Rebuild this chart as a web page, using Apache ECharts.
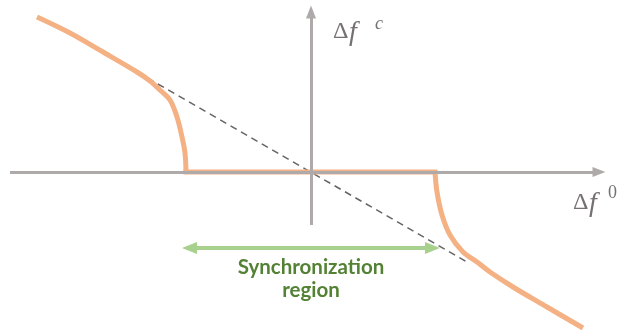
<!DOCTYPE html>
<html>
<head>
<meta charset="utf-8">
<script src="https://cdn.jsdelivr.net/npm/echarts@6/dist/echarts.min.js"></script>
<style>
  html, body { margin: 0; padding: 0; background: #ffffff; }
  #chart { width: 622px; height: 331px; }
</style>
</head>
<body>
<div id="chart"></div>
<script>
// Injection locking: free-running detuning Δf⁰ (x) against the observed beat frequency Δf^c (y).

// Unlocked branch left of the locking range
const leftBranchX = [-5.48, -4.82, -4.16, -3.48, -3.22, -3.02, -2.82, -2.68, -2.58, -2.52, -2.50];
const leftBranchY = [3.10, 2.78, 2.40, 2.00, 1.82, 1.64, 1.44, 1.10, 0.70, 0.38, 0];
// Locked plateau (beat frequency pulled to zero)
const lockedX = [-2.50, 2.48];
const lockedY = [0, 0];
// Unlocked branch right of the locking range
const rightBranchX = [2.48, 2.52, 2.62, 2.78, 3.04, 3.32, 3.58, 4.04, 4.72, 5.44];
const rightBranchY = [0, -0.40, -0.86, -1.26, -1.60, -1.80, -2.00, -2.30, -2.70, -3.12];
// Unlocked asymptote Δf^c = -k·Δf⁰
const asymptoteX = [-3.48, 3.12];
const asymptoteY = [2.00, -1.80];
// Locking range arrow
const syncArrowX = [-2.43, 2.43];
const syncArrowY = -1.52;
// Axis shafts
const horizontalAxisX = [-6.02, 5.76];
const verticalAxisY = [-1.06, 3.20];

const axisLabelX = ['Δ', 'f', '0'];
const axisLabelY = ['Δ', 'f', 'c'];
const regionLabel = ['Synchronization', 'region'];

function pairs(xs, ys) {
  return xs.map((x, i) => [x, ys[i]]);
}

const AXIS_GRAY = '#aeaaaa';
const ORANGE = '#f4b183';
const GREEN_ARROW = '#a9d18e';
const GREEN_TEXT = '#548235';
const MATH_GRAY = '#767171';
const SERIF = '"Liberation Serif", serif';

const chart = echarts.init(document.getElementById('chart'), null, { renderer: 'canvas' });

function textEl(x, y, text, font, fill) {
  return {
    type: 'text', x: x, y: y, silent: true,
    style: {
      text: text, font: font, fill: fill,
      align: 'left', textAlign: 'left',
      verticalAlign: 'middle', textVerticalAlign: 'middle'
    }
  };
}

// Δ, italic f and a raised superscript
function mathLabel(parts, deltaX, baseY, fX, supX, supY, supItalic) {
  return [
    textEl(deltaX, baseY, parts[0], 'normal 24px ' + SERIF, MATH_GRAY),
    textEl(fX, baseY + 1, parts[1], 'italic 28px ' + SERIF, MATH_GRAY),
    textEl(supX, supY, parts[2], (supItalic ? 'italic ' : 'normal ') + '18px ' + SERIF, MATH_GRAY)
  ];
}

const branchStyle = { color: ORANGE, width: 5, cap: 'butt', join: 'round' };

const option = {
  animation: false,
  backgroundColor: '#ffffff',
  grid: { left: 0, right: 0, top: 0, bottom: 0 },
  xAxis: { type: 'value', min: -6.22, max: 6.22, show: false },
  yAxis: { type: 'value', min: -3.18, max: 3.44, show: false },
  series: [
    {
      // coordinate axes with arrow heads
      type: 'line', data: [], silent: true, z: 1,
      markLine: {
        silent: true, animation: false,
        symbol: ['none', 'triangle'],
        symbolSize: [10, 13],
        label: { show: false },
        lineStyle: { color: AXIS_GRAY, width: 3, type: 'solid' },
        emphasis: { disabled: true },
        data: [
          [{ coord: [horizontalAxisX[0], 0] }, { coord: [horizontalAxisX[1], 0] }],
          [{ coord: [0, verticalAxisY[0]] }, { coord: [0, verticalAxisY[1]] }]
        ]
      }
    },
    {
      // asymptote
      type: 'line', data: pairs(asymptoteX, asymptoteY), silent: true, z: 2,
      symbol: 'none',
      lineStyle: { color: '#656565', width: 1.5, type: [7, 5] }
    },
    {
      type: 'line', data: pairs(leftBranchX, leftBranchY), silent: true, z: 3,
      symbol: 'none', smooth: 0.35,
      lineStyle: branchStyle
    },
    {
      type: 'line', data: pairs(lockedX, lockedY), silent: true, z: 3,
      symbol: 'none',
      lineStyle: { color: ORANGE, width: 5, cap: 'square' }
    },
    {
      type: 'line', data: pairs(rightBranchX, rightBranchY), silent: true, z: 3,
      symbol: 'none', smooth: 0.35,
      lineStyle: branchStyle
    },
    {
      // locking range arrow
      type: 'line', data: [], silent: true, z: 4,
      markLine: {
        silent: true, animation: false,
        symbol: ['triangle', 'triangle'],
        symbolSize: [12, 15],
        label: { show: false },
        lineStyle: { color: GREEN_ARROW, width: 4, type: 'solid' },
        emphasis: { disabled: true },
        data: [
          [{ coord: [syncArrowX[0], syncArrowY] }, { coord: [syncArrowX[1], syncArrowY] }]
        ]
      }
    }
  ],
  graphic: [].concat(
    mathLabel(axisLabelY, 333, 32, 349, 375, 24, true),
    mathLabel(axisLabelX, 573, 202.5, 589, 608, 193, false),
    [{
      type: 'text', x: 311, y: 279, silent: true,
      style: {
        text: regionLabel.join('\n'),
        fill: GREEN_TEXT,
        font: 'bold 20.5px Lato, "Open Sans", sans-serif',
        lineHeight: 23,
        align: 'center', textAlign: 'center',
        verticalAlign: 'middle', textVerticalAlign: 'middle'
      }
    }]
  )
};

chart.setOption(option);
</script>
</body>
</html>
